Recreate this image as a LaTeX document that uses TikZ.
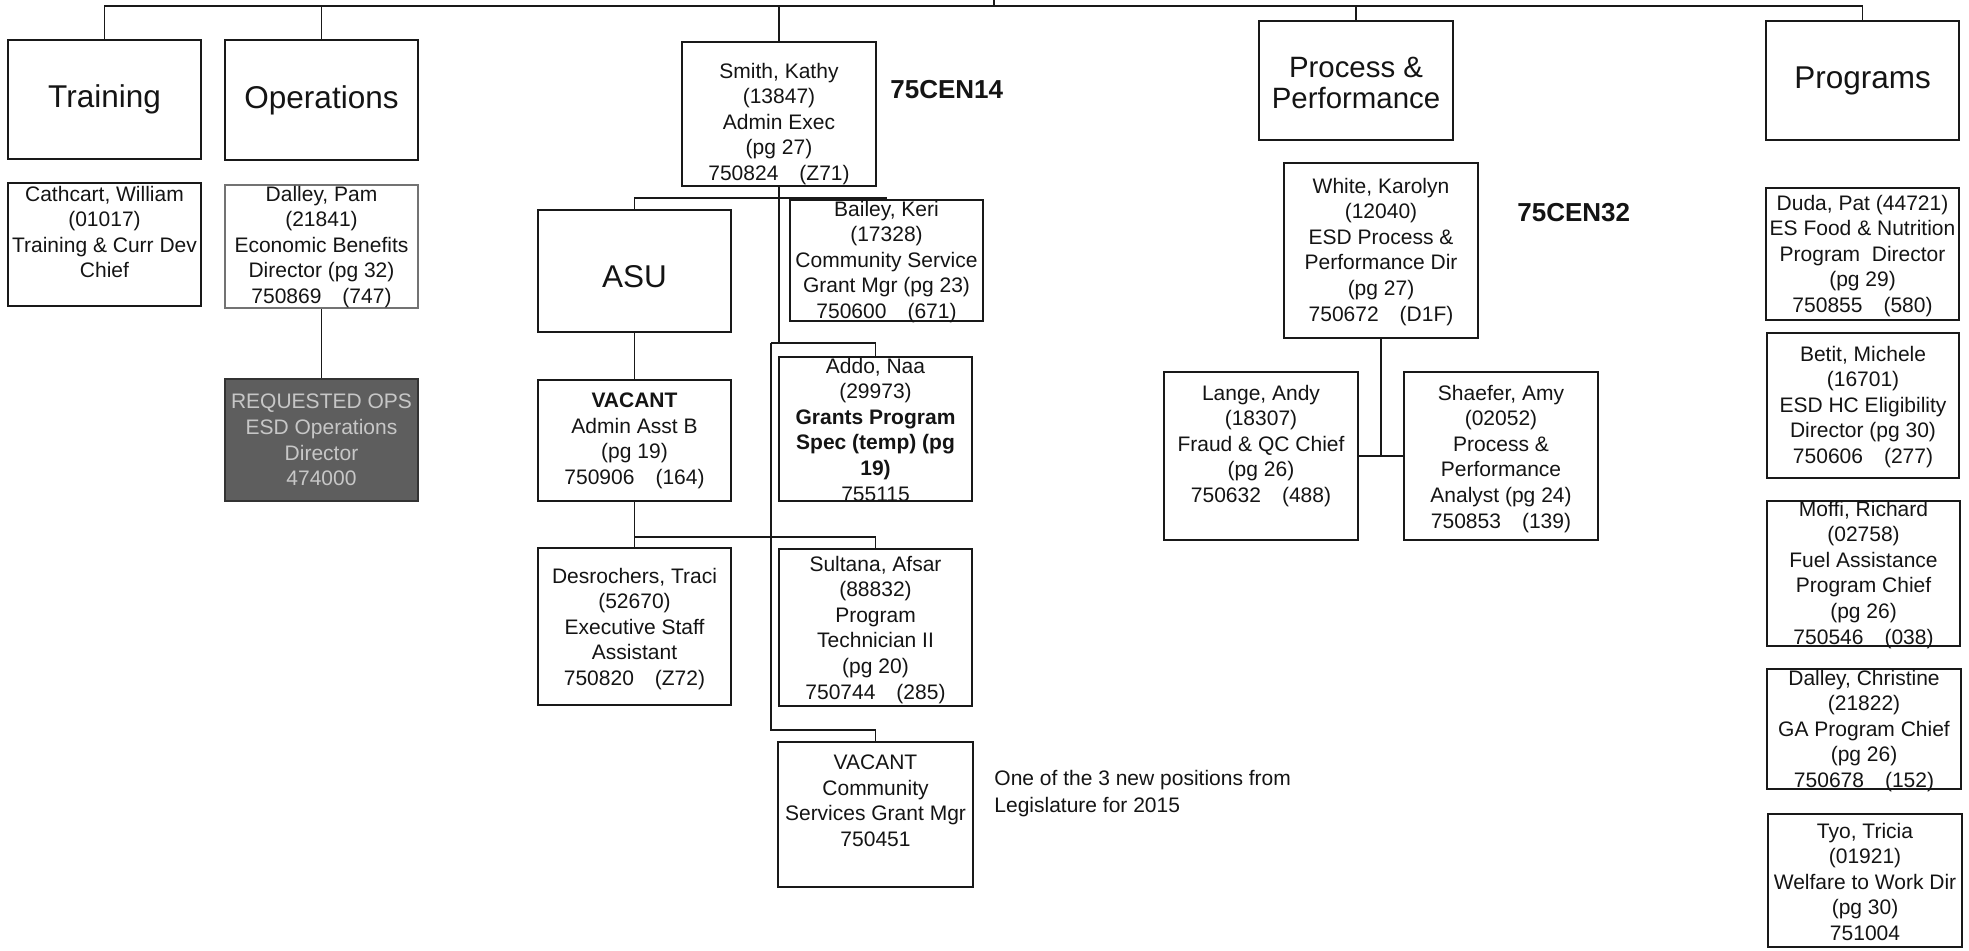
\documentclass[tikz,border=0pt]{standalone}
\usepackage{fontspec}
\setmainfont{Liberation Sans}
% rectangle given by its corners (x1,y1)-(x2,y2), in pixel units
\newcommand\orgbox[6][]{%
  \node[box,#1,minimum width={(#5-#3)*0.5pt},minimum height={(#6-#4)*0.5pt}]
    (#2) at ({(#3+#5)/2},{(#4+#6)/2}) {};}
\begin{document}
\begin{tikzpicture}[x=0.5pt,y=-0.5pt,
  box/.style={draw=black!90, line width=0.7pt, rectangle, inner sep=0pt},
  txt/.style={anchor=north, align=center, inner sep=0pt, text=black!92,
    font=\fontsize{10.5}{12.8}\selectfont},
  head/.style={align=center, inner sep=0pt, text=black!92,
    font=\fontsize{15.75}{17.5}\selectfont},
  code/.style={anchor=west, inner sep=0pt, text=black!92,
    font=\bfseries\fontsize{13}{15}\selectfont},
  note/.style={anchor=north west, align=left, inner sep=0pt, text=black!92,
    font=\fontsize{10.5}{13.5}\selectfont},
  link/.style={draw=black!90, line width=0.7pt}]

\useasboundingbox (0,0) rectangle (1969,951);

% ---- division headers
\orgbox{training}{8}{40}{201}{159}
\orgbox{operations}{225}{40}{418}{160}
\orgbox{pp}{1259}{21}{1453}{140}
\orgbox{programs}{1766}{21}{1959}{140}
\node[head] (training-t) at (training) {Training};
\node[head] (operations-t) at (operations) {Operations};
\node[head, font=\fontsize{14.7}{15.5}\selectfont] (pp-t) at ([yshift=-1pt]pp.center)
  {Process \&\\Performance};
\node[head] (programs-t) at (programs) {Programs};

% ---- training / operations
\orgbox{cathcart}{8}{183}{201}{306}
\node[txt] (cathcart-t) at (cathcart.north |- 0,185.5)
  {Cathcart, William\\(01017)\\Training \& Curr Dev\\Chief};
\orgbox[draw=black!55, line width=1.1pt]{dalleyp}{225}{185}{418}{308}
\node[txt] (dalleyp-t) at (dalleyp.north |- 0,185.5)
  {Dalley, Pam\\(21841)\\Economic Benefits\\Director (pg 32)\\750869\quad(747)};
\orgbox[fill=black!63, draw=black!80]{requested}{225}{379}{418}{501}
\node[txt, anchor=center, text=black!22] (requested-t) at (requested)
  {REQUESTED OPS\\ESD Operations\\Director\\474000};

% ---- admin executive branch
\orgbox{smith}{682}{42}{876}{186}
\node[txt] (smith-t) at (smith.north |- 0,62.5)
  {Smith, Kathy\\(13847)\\Admin Exec\\(pg 27)\\750824\quad(Z71)};
\node[code] (cen14) at (890,90) {75CEN14};

\orgbox{asu}{538}{210}{731}{332}
\node[head] (asu-t) at ([yshift=-3pt]asu.center) {ASU};
\orgbox{bailey}{790}{200}{983}{321}
\node[txt] (bailey-t) at (bailey.north |- 0,200.5)
  {Bailey, Keri\\(17328)\\Community Service\\Grant Mgr (pg 23)\\750600\quad(671)};

\orgbox{vacadmin}{538}{380}{731}{501}
\node[txt] (vacadmin-t) at (vacadmin.north |- 0,392.5)
  {\textbf{VACANT}\\Admin Asst B\\(pg 19)\\750906\quad(164)};
\orgbox{addo}{779}{357}{972}{501}
\node[txt] (addo-t) at (addo.north |- 0,357.5)
  {Addo, Naa\\(29973)\\\textbf{Grants Program}\\\textbf{Spec (temp) (pg}\\\textbf{19)}\\755115};

\orgbox{desro}{538}{548}{731}{705}
\node[txt] (desro-t) at (desro.north |- 0,567.5)
  {Desrochers, Traci\\(52670)\\Executive Staff\\Assistant\\750820\quad(Z72)};
\orgbox{sultana}{779}{549}{972}{706}
\node[txt] (sultana-t) at (sultana.north |- 0,555.5)
  {Sultana, Afsar\\(88832)\\Program\\Technician II\\(pg 20)\\750744\quad(285)};

\orgbox{vaclast}{778}{742}{973}{887}
\node[txt] (vaclast-t) at (vaclast.north |- 0,754.5)
  {VACANT\\Community\\Services Grant Mgr\\750451};
\node[note] (newpos) at (994,770)
  {One of the 3 new positions from\\Legislature for 2015};

% ---- process & performance branch
\orgbox{white}{1284}{163}{1478}{338}
\node[txt] (white-t) at (white.north |- 0,177.5)
  {White, Karolyn\\(12040)\\ESD Process \&\\Performance Dir\\(pg 27)\\750672\quad(D1F)};
\node[code] (cen32) at (1517,213) {75CEN32};
\orgbox{lange}{1164}{372}{1358}{540}
\node[txt] (lange-t) at (lange.north |- 0,384.5)
  {Lange, Andy\\(18307)\\Fraud \& QC Chief\\(pg 26)\\750632\quad(488)};
\orgbox{shaefer}{1404}{372}{1598}{540}
\node[txt] (shaefer-t) at (shaefer.north |- 0,384.5)
  {Shaefer, Amy\\(02052)\\Process \&\\Performance\\Analyst (pg 24)\\750853\quad(139)};

% ---- programs column
\orgbox{duda}{1766}{188}{1959}{320}
\node[txt] (duda-t) at (duda.north |- 0,194.5)
  {Duda, Pat (44721)\\ES Food \& Nutrition\\Program\ \ Director\\(pg 29)\\750855\quad(580)};
\orgbox{betit}{1767}{333}{1959}{478}
\node[txt] (betit-t) at (betit.north |- 0,345.5)
  {Betit, Michele\\(16701)\\ESD HC Eligibility\\Director (pg 30)\\750606\quad(277)};
\orgbox{moffi}{1767}{501}{1960}{646}
\node[txt] (moffi-t) at (moffi.north |- 0,500.5)
  {Moffi, Richard\\(02758)\\Fuel Assistance\\Program Chief\\(pg 26)\\750546\quad(038)};
\orgbox{dalleyc}{1767}{669}{1961}{789}
\node[txt] (dalleyc-t) at (dalleyc.north |- 0,669.5)
  {Dalley, Christine\\(21822)\\GA Program Chief\\(pg 26)\\750678\quad(152)};
\orgbox{tyo}{1768}{814}{1962}{947}
\node[txt] (tyo-t) at (tyo.north |- 0,822.5)
  {Tyo, Tricia\\(01921)\\Welfare to Work Dir\\(pg 30)\\751004};

% ---- connectors
\coordinate (bus) at (0,6);
\coordinate (up) at (994,0);
\draw[link] (training.north) -- (training.north |- bus)
  -- (programs.north |- bus) -- (programs.north);
\foreach \n in {operations,smith,pp} \draw[link] (\n.north) -- (\n.north |- bus);
\draw[link] (up) -- (up |- bus);

\draw[link] (dalleyp.south) -- (requested.north);

\coordinate (j1) at (0,198);
\coordinate (j2) at (771,343);
\coordinate (j3) at (0,537);
\coordinate (j4) at (0,730);
\draw[link] (asu.north) -- (asu.north |- j1) -| (bailey.north);
\draw[link] (smith.south) -- (smith.south |- j2);
\draw[link] (j2) -| (addo.north);
\draw[link] (j2) -- (j2 |- j4) -| (vaclast.north);
\draw[link] (asu.south) -- (vacadmin.north);
\draw[link] (vacadmin.south) -- (desro.north);
\draw[link] (vacadmin.south |- j3) -| (sultana.north);

\draw[link] (white.south) -- (white.south |- lange.east);
\draw[link] (lange.east) -- (shaefer.west);
\end{tikzpicture}
\end{document}
